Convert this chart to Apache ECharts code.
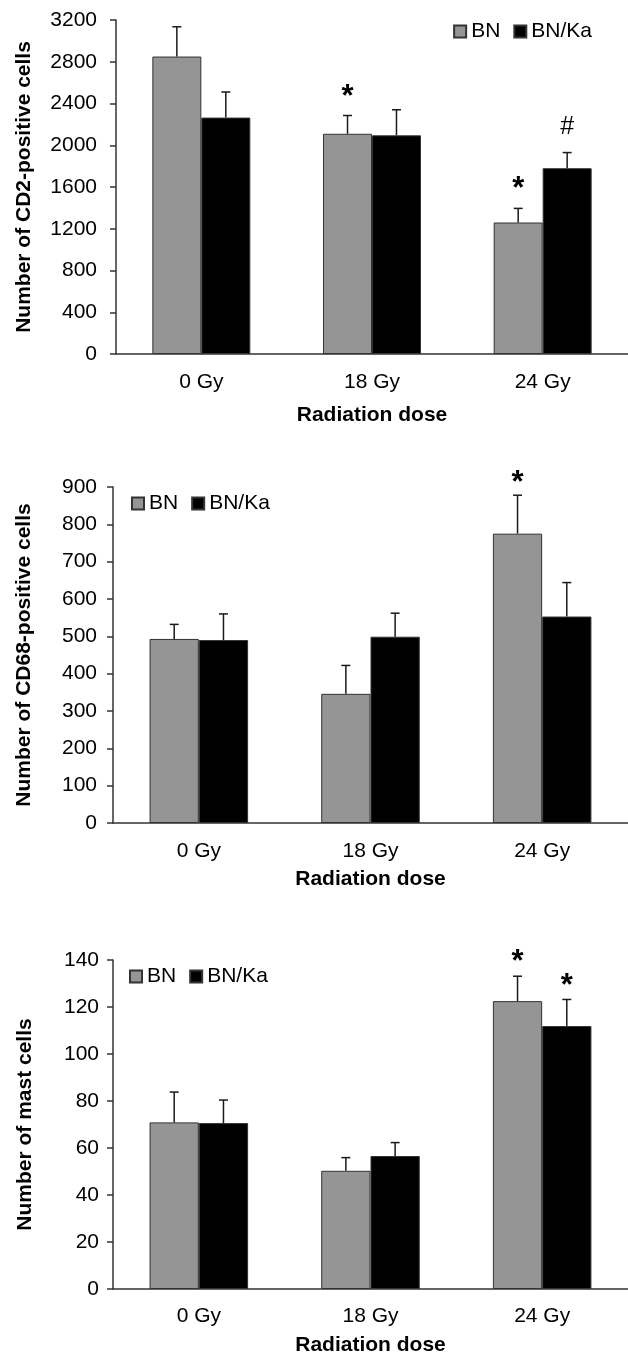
<!DOCTYPE html>
<html>
<head>
<meta charset="utf-8">
<script src="https://cdn.jsdelivr.net/npm/echarts@6/dist/echarts.min.js"></script>
<style>
  html, body { margin: 0; padding: 0; background: #fff; }
  #chart { width: 628px; height: 1361px; }
</style>
</head>
<body>
<div id="chart"></div>
<script>
// categories
const doses = ['0 Gy', '18 Gy', '24 Gy'];
const groups = ['BN', 'BN/Ka'];

// panel 1: CD2-positive cells
const cd2BN = [2850, 2110, 1260];
const cd2BNErr = [285, 175, 135];
const cd2Ka = [2265, 2095, 1780];
const cd2KaErr = [245, 245, 150];
const cd2BNMarks = ['', '*', '*'];
const cd2KaMarks = ['', '', '#'];

// panel 2: CD68-positive cells
const cd68BN = [493, 346, 775];
const cd68BNErr = [39, 76, 103];
const cd68Ka = [490, 499, 553];
const cd68KaErr = [70, 63, 91];
const cd68BNMarks = ['', '', '*'];
const cd68KaMarks = ['', '', ''];

// panel 3: mast cells
const mastBN = [70.9, 50.3, 122.5];
const mastBNErr = [12.9, 5.6, 10.6];
const mastKa = [70.6, 56.6, 111.9];
const mastKaErr = [9.8, 5.7, 11.3];
const mastBNMarks = ['', '', '*'];
const mastKaMarks = ['', '', '*'];

const FONT = '"Liberation Sans", Arial, sans-serif';
const GRAY = '#959595';
const INK = '#1a1a1a';
const AXIS = '#333';
const BAR_RATIO = 0.287;

const chart = echarts.init(document.getElementById('chart'));

// error bar (upper half only) + significance mark
function errorSeries(idx, side, means, errs, marks, markGap) {
  return {
    type: 'custom',
    xAxisIndex: idx,
    yAxisIndex: idx,
    clip: false,
    z: 5,
    silent: true,
    data: means.map((m, i) => [i, m, errs[i]]),
    renderItem: (params, api) => {
      const cat = api.value(0);
      const mean = api.value(1);
      const err = api.value(2);
      const bw = api.size([1, 0])[0] * BAR_RATIO;
      const base = api.coord([cat, mean]);
      const top = api.coord([cat, mean + err]);
      const x = base[0] + side * bw / 2;
      const st = { stroke: INK, lineWidth: 1.5 };
      const kids = [
        { type: 'line', shape: { x1: x, y1: base[1], x2: x, y2: top[1] }, style: st },
        { type: 'line', shape: { x1: x - 4.5, y1: top[1], x2: x + 4.5, y2: top[1] }, style: st },
      ];
      const mk = marks[params.dataIndex];
      if (mk) {
        const star = mk === '*';
        kids.push({
          type: 'text',
          style: {
            text: mk,
            x: x,
            y: top[1] - markGap + (star ? 10 : 0),
            align: 'center',
            verticalAlign: 'bottom',
            fill: '#000',
            font: (star ? 'bold 31px ' : '25px ') + FONT,
          },
        });
      }
      return { type: 'group', children: kids };
    },
  };
}

function barSeries(idx, name, values, color) {
  return {
    type: 'bar',
    name: name,
    xAxisIndex: idx,
    yAxisIndex: idx,
    data: values,
    barWidth: (BAR_RATIO * 100) + '%',
    barGap: '0%',
    itemStyle: { color: color, borderColor: '#333', borderWidth: 1 },
    emphasis: { disabled: true },
  };
}

function xAxis(idx, labelMargin, nameGap) {
  return {
    type: 'category',
    gridIndex: idx,
    data: doses,
    name: 'Radiation dose',
    nameLocation: 'middle',
    nameGap: nameGap,
    nameTextStyle: { fontFamily: FONT, fontSize: 21, fontWeight: 'bold', color: '#000' },
    axisLine: { lineStyle: { color: AXIS, width: 1.5 } },
    axisTick: { length: 6, lineStyle: { color: AXIS, width: 1.5 } },
    axisLabel: { fontFamily: FONT, fontSize: 21, color: '#000', margin: labelMargin },
  };
}

function yAxis(idx, name, max, interval, labelMargin, nameGap) {
  return {
    type: 'value',
    gridIndex: idx,
    min: 0,
    max: max,
    interval: interval,
    name: name,
    nameLocation: 'middle',
    nameGap: nameGap,
    nameTextStyle: { fontFamily: FONT, fontSize: 21, fontWeight: 'bold', color: '#000' },
    axisLine: { show: true, lineStyle: { color: AXIS, width: 1.5 } },
    axisTick: { show: true, length: 6, lineStyle: { color: AXIS, width: 1.5 } },
    axisLabel: {
      fontFamily: FONT, fontSize: 21, color: '#000', margin: labelMargin,
      formatter: (v) => String(v),
    },
    splitLine: { show: false },
  };
}

function legend(pos) {
  return Object.assign({
    data: groups,
    icon: 'rect',
    itemWidth: 12,
    itemHeight: 12,
    itemGap: 13,
    selectedMode: false,
    textStyle: { fontFamily: FONT, fontSize: 21, color: '#000' },
  }, pos);
}

chart.setOption({
  animation: false,
  grid: [
    { left: 116, top: 20, width: 517, height: 334 },
    { left: 113, top: 487, width: 516, height: 336 },
    { left: 113, top: 960, width: 524, height: 329 },
  ],
  legend: [
    legend({ right: 31, top: 16 }),
    legend({ left: 126, top: 488 }),
    legend({ left: 124, top: 961 }),
  ],
  xAxis: [xAxis(0, 18, 51), xAxis(1, 18, 46), xAxis(2, 17, 46)],
  yAxis: [
    yAxis(0, 'Number of CD2-positive cells', 3200, 400, 19, 81),
    yAxis(1, 'Number of CD68-positive cells', 900, 100, 16, 78),
    yAxis(2, 'Number of mast cells', 140, 20, 14, 77),
  ],
  series: [
    barSeries(0, 'BN', cd2BN, GRAY),
    barSeries(0, 'BN/Ka', cd2Ka, '#000'),
    errorSeries(0, -1, cd2BN, cd2BNErr, cd2BNMarks, 13),
    errorSeries(0, 1, cd2Ka, cd2KaErr, cd2KaMarks, 13),

    barSeries(1, 'BN', cd68BN, GRAY),
    barSeries(1, 'BN/Ka', cd68Ka, '#000'),
    errorSeries(1, -1, cd68BN, cd68BNErr, cd68BNMarks, 6),
    errorSeries(1, 1, cd68Ka, cd68KaErr, cd68KaMarks, 6),

    barSeries(2, 'BN', mastBN, GRAY),
    barSeries(2, 'BN/Ka', mastKa, '#000'),
    errorSeries(2, -1, mastBN, mastBNErr, mastBNMarks, 8),
    errorSeries(2, 1, mastKa, mastKaErr, mastKaMarks, 8),
  ],
});
</script>
</body>
</html>
